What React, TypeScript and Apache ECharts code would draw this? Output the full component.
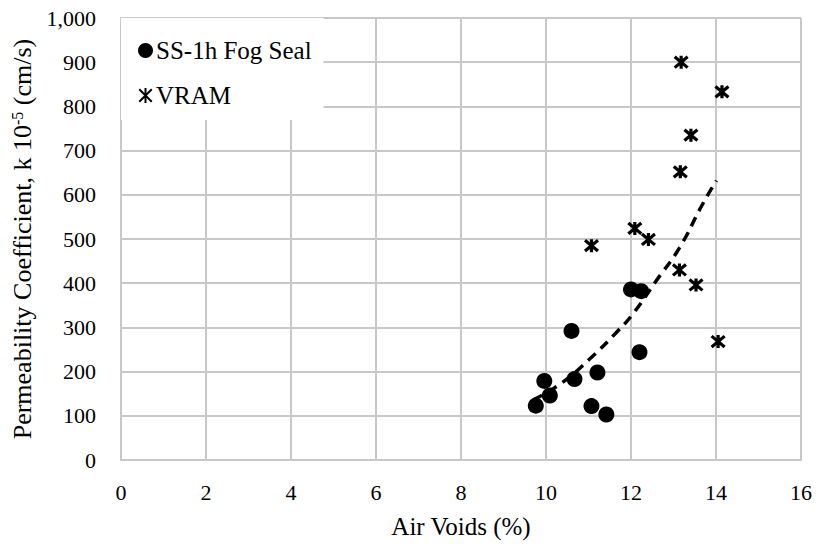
import React, { useEffect, useRef } from "react";
import * as echarts from "echarts";

// Air voids (%) vs permeability coefficient (k 10^-5 cm/s)
const fogSealX = [9.76, 9.96, 10.09, 10.6, 10.67, 11.07, 11.21, 11.42, 12.0, 12.24, 12.2];
const fogSealY = [123, 179, 146, 292, 183, 122, 198, 103, 386, 382, 244];

const vramX = [13.18, 14.14, 13.41, 13.16, 12.09, 12.41, 11.07, 13.14, 13.53, 14.05];
const vramY = [900, 833, 735, 652, 524, 499, 485, 430, 396, 268];

const trendX = [9.7, 10.35, 11.02, 11.65, 12.04, 12.59, 13.14, 13.68, 14.01];
const trendY = [136, 173, 228, 288, 330, 405, 480, 578, 632];

const xTicks = [0, 2, 4, 6, 8, 10, 12, 14, 16];
const yTicks = [0, 100, 200, 300, 400, 500, 600, 700, 800, 900, 1000];

const FONT = "Liberation Serif, Times New Roman, serif";
const STAR = "path://M0,0 L10,10 M10,0 L0,10 M5,-1 L5,11";

export default function App() {
  const ref = useRef<HTMLDivElement>(null);

  useEffect(() => {
    document.body.style.margin = "0";
    if (!ref.current) return;
    const chart = echarts.init(ref.current, undefined, { renderer: "svg" });
    const zip = (xs: number[], ys: number[]) => xs.map((x, i) => [x, ys[i]]);
    chart.setOption({
      animation: false,
      backgroundColor: "#ffffff",
      textStyle: { fontFamily: FONT, color: "#000" },
      grid: { left: 121, right: 18, top: 18, bottom: 84, containLabel: false },
      legend: {
        orient: "vertical",
        left: 121,
        top: 18,
        padding: [20, 12, 12, 17],
        backgroundColor: "#ffffff",
        itemGap: 20,
        itemWidth: 15,
        itemHeight: 15,
        textStyle: { fontFamily: FONT, fontSize: 25, color: "#000", padding: [0, 0, 0, -2] },
        data: [
          { name: "SS-1h Fog Seal", icon: "circle" },
          { name: "VRAM" },
        ],
      },
      xAxis: {
        type: "value",
        min: xTicks[0],
        max: xTicks[xTicks.length - 1],
        interval: 2,
        name: "Air Voids (%)",
        nameLocation: "middle",
        nameGap: 54,
        nameTextStyle: { fontFamily: FONT, fontSize: 25, color: "#000" },
        axisLine: { show: true, lineStyle: { color: "#c8c8c8", width: 2 } },
        axisTick: { show: false },
        axisLabel: { fontFamily: FONT, fontSize: 22, color: "#000", margin: 21 },
        splitLine: { show: true, lineStyle: { color: "#c8c8c8", width: 2 } },
      },
      yAxis: {
        type: "value",
        min: yTicks[0],
        max: yTicks[yTicks.length - 1],
        interval: 100,
        name: "Permeability Coefficient, k 10{sup|-5} (cm/s)",
        nameLocation: "middle",
        nameRotate: 90,
        nameGap: 85,
        nameTextStyle: {
          fontFamily: FONT,
          fontSize: 26,
          color: "#000",
          rich: {
            sup: { fontFamily: FONT, fontSize: 16, color: "#000", verticalAlign: "top", padding: [0, 0, 11, 0] },
          },
        },
        axisLine: { show: true, lineStyle: { color: "#c8c8c8", width: 2 } },
        axisTick: { show: false },
        axisLabel: {
          fontFamily: FONT,
          fontSize: 22,
          color: "#000",
          margin: 25,
          formatter: (v: number) => v.toLocaleString("en-US"),
        },
        splitLine: { show: true, lineStyle: { color: "#c8c8c8", width: 2 } },
      },
      series: [
        {
          name: "SS-1h Fog Seal",
          type: "scatter",
          symbol: "circle",
          symbolSize: 16,
          itemStyle: { color: "#000", opacity: 1 },
          data: zip(fogSealX, fogSealY),
          z: 3,
        },
        {
          name: "VRAM",
          type: "scatter",
          symbol: STAR,
          symbolSize: 13,
          itemStyle: { color: "rgba(0,0,0,0)", borderColor: "#000", borderWidth: 3.2, opacity: 1 },
          data: zip(vramX, vramY),
          z: 3,
        },
        {
          name: "trend",
          type: "line",
          smooth: true,
          showSymbol: false,
          symbol: "none",
          lineStyle: { color: "#000", width: 3.5, type: [10, 7] },
          data: zip(trendX, trendY),
          z: 4,
        },
      ],
    });
    return () => chart.dispose();
  }, []);

  return <div ref={ref} style={{ width: 819, height: 544 }} />;
}
